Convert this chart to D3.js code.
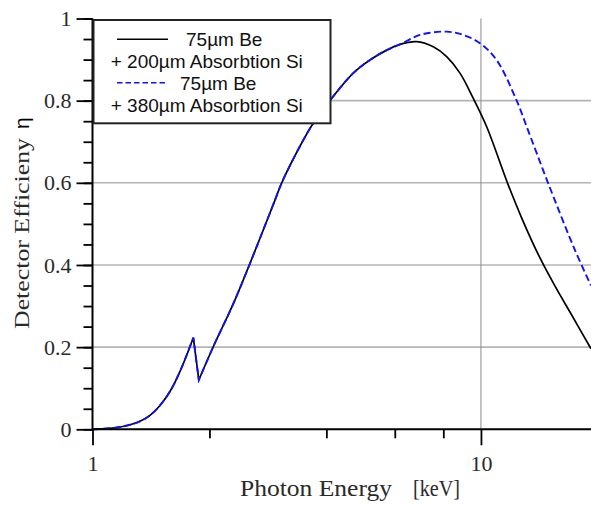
<!DOCTYPE html>
<html>
<head>
<meta charset="utf-8">
<script src="https://cdn.jsdelivr.net/npm/d3@7"></script>
<style>
  html, body { margin: 0; padding: 0; background: #fff; }
  svg { display: block; }
</style>
</head>
<body>
<svg id="chart" width="591" height="506"></svg>
<script>
// ---- Data ----
// Shared low-energy part (both detector configurations coincide), split at the Si K-edge
const energyBelowEdge = [1.0, 1.109, 1.177, 1.249, 1.325, 1.406, 1.492, 1.584, 1.680, 1.818];
const effBelowEdge    = [0.0, 0.0024, 0.0056, 0.011, 0.0195, 0.034, 0.058, 0.0925, 0.141, 0.223];
const energyAboveEdge = [1.878, 2.046, 2.327, 2.95, 3.07, 3.42, 3.70, 4.13, 4.69, 5.18, 5.72, 6.19];
const effAboveEdge    = [0.120, 0.201, 0.315, 0.558, 0.600, 0.689, 0.745, 0.806, 0.867, 0.899, 0.923, 0.937];
// High-energy part, 75µm Be + 200µm Si
const energySi200 = [6.83, 7.54, 8.16, 8.83, 9.55, 10.34, 11.70, 12.75, 14.19, 15.50, 16.95, 19.2];
const effSi200    = [0.9435, 0.931, 0.907, 0.867, 0.806, 0.737, 0.600, 0.513, 0.417, 0.349, 0.2855, 0.196];
// High-energy part, 75µm Be + 380µm Si
const energySi380 = [6.97, 8.16, 9.0, 9.94, 10.97, 12.36, 13.11, 14.88, 17.46, 19.2];
const effSi380    = [0.960, 0.968, 0.960, 0.940, 0.899, 0.800, 0.737, 0.600, 0.436, 0.350];

const yMajorTicks = [0, 0.2, 0.4, 0.6, 0.8, 1];
const yMinorTicks = d3.range(0, 1.0001, 0.05);
const yGridValues = [0.2, 0.4, 0.6, 0.8];
const xMajorTicks = [1, 10];
const xMinorTicks = [2, 4, 6, 8];
const xGridValues = [10];
const legendLabels = [["75µm Be", "+ 200µm Absorbtion Si"], ["75µm Be", "+ 380µm Absorbtion Si"]];

// ---- Drawing ----
const svg = d3.select("#chart");
const x = d3.scaleLog().domain([1, 19.2]).range([92.5, 591]);
const y = d3.scaleLinear().domain([0, 1]).range([429.3, 18.5]);
const serif = "'Liberation Serif', 'Times New Roman', serif";
const sans = "'Liberation Sans', Arial, sans-serif";

// grid
svg.append("g").selectAll("line").data(yGridValues).join("line")
  .attr("x1", x.range()[0]).attr("x2", x.range()[1])
  .attr("y1", d => y(d)).attr("y2", d => y(d))
  .attr("stroke", "#b4b4b4").attr("stroke-width", 1.6);
svg.append("g").selectAll("line").data(xGridValues).join("line")
  .attr("x1", d => x(d)).attr("x2", d => x(d))
  .attr("y1", y(1)).attr("y2", y(0))
  .attr("stroke", "#8c8c8c").attr("stroke-width", 1);

// curves
const zip = (es, vs) => es.map((e, i) => [e, vs[i]]);
const lineGen = d3.line().x(d => x(d[0])).y(d => y(d[1])).curve(d3.curveCatmullRom.alpha(0.5));
const below = zip(energyBelowEdge, effBelowEdge);
function seriesPath(highE, highV) {
  const above = zip(energyAboveEdge, effAboveEdge).concat(zip(highE, highV));
  return lineGen(below) + lineGen(above).replace(/^M/, "L");
}
svg.append("path").attr("d", seriesPath(energySi200, effSi200))
  .attr("fill", "none").attr("stroke", "#000").attr("stroke-width", 1.7);
svg.append("path").attr("d", seriesPath(energySi380, effSi380))
  .attr("fill", "none").attr("stroke", "#1010ff").attr("stroke-width", 1.9)
  .attr("stroke-dasharray", "7,3.5");

// axes
const yAxisMajor = d3.axisLeft(y).tickValues(yMajorTicks).tickSize(16).tickPadding(5)
  .tickFormat(d => d === 0 ? "0" : d === 1 ? "1" : d3.format(".1f")(d));
const yAxisMinor = d3.axisLeft(y).tickValues(yMinorTicks).tickSize(9).tickFormat("");
const xAxisMajor = d3.axisBottom(x).tickValues(xMajorTicks).tickSize(16).tickPadding(10)
  .tickFormat(d3.format("d"));
const xAxisMinor = d3.axisBottom(x).tickValues(xMinorTicks).tickSize(9).tickFormat("");

function styleAxis(g) {
  g.select(".domain").remove();
  g.selectAll(".tick line").attr("stroke", "#000").attr("stroke-width", 1.8);
  g.selectAll(".tick text").attr("fill", "#2a2a2a")
    .style("font-family", serif).style("font-size", "22px");
}
svg.append("g").attr("transform", `translate(${x(1)},0)`).call(yAxisMinor).call(styleAxis);
svg.append("g").attr("transform", `translate(${x(1)},0)`).call(yAxisMajor).call(styleAxis);
svg.append("g").attr("transform", `translate(0,${y(0)})`).call(xAxisMinor).call(styleAxis);
svg.append("g").attr("transform", `translate(0,${y(0)})`).call(xAxisMajor).call(styleAxis);

// axis lines
svg.append("line").attr("x1", x(1)).attr("x2", x(1)).attr("y1", y(1)).attr("y2", y(0))
  .attr("stroke", "#000").attr("stroke-width", 2);
svg.append("line").attr("x1", x(1)).attr("x2", x.range()[1]).attr("y1", y(0)).attr("y2", y(0))
  .attr("stroke", "#000").attr("stroke-width", 2);

// axis titles
svg.append("text").attr("x", 240).attr("y", 496).attr("fill", "#2a2a2a")
  .style("font-family", serif).style("font-size", "23px")
  .attr("textLength", 152).attr("lengthAdjust", "spacingAndGlyphs")
  .text("Photon Energy");
svg.append("text").attr("x", 413).attr("y", 496).attr("fill", "#2a2a2a")
  .style("font-family", serif).style("font-size", "23px")
  .attr("textLength", 47).attr("lengthAdjust", "spacingAndGlyphs")
  .text("[keV]");

const yt = svg.append("text").attr("transform", "translate(29,329) rotate(-90)").attr("fill", "#2a2a2a");
yt.append("tspan").style("font-family", serif).style("font-size", "22px")
  .attr("textLength", 191).attr("lengthAdjust", "spacingAndGlyphs").text("Detector Efficieny");
yt.append("tspan").attr("dx", 9).style("font-family", sans).style("font-size", "21px").attr("fill", "#000").text("η");

// legend
const lg = svg.append("g");
lg.append("rect").attr("x", 93.5).attr("y", 20).attr("width", 237).attr("height", 103.3)
  .attr("fill", "#fff").attr("stroke", "#222").attr("stroke-width", 2);
lg.append("line").attr("x1", 117).attr("x2", 168).attr("y1", 39.3).attr("y2", 39.3)
  .attr("stroke", "#000").attr("stroke-width", 1.6);
lg.append("line").attr("x1", 117).attr("x2", 168).attr("y1", 82.7).attr("y2", 82.7)
  .attr("stroke", "#1010ff").attr("stroke-width", 1.6).attr("stroke-dasharray", "5.5,3");
const legendPos = [[186, 45.5], [110.7, 68.3], [180, 90], [110.7, 111.7]];
const legendTexts = legendLabels.flat();
lg.selectAll("text.lt").data(legendTexts).join("text").attr("class", "lt")
  .attr("x", (d, i) => legendPos[i][0]).attr("y", (d, i) => legendPos[i][1])
  .style("font-family", sans).style("font-size", "19px").attr("fill", "#111")
  .text(d => d);
</script>
</body>
</html>
